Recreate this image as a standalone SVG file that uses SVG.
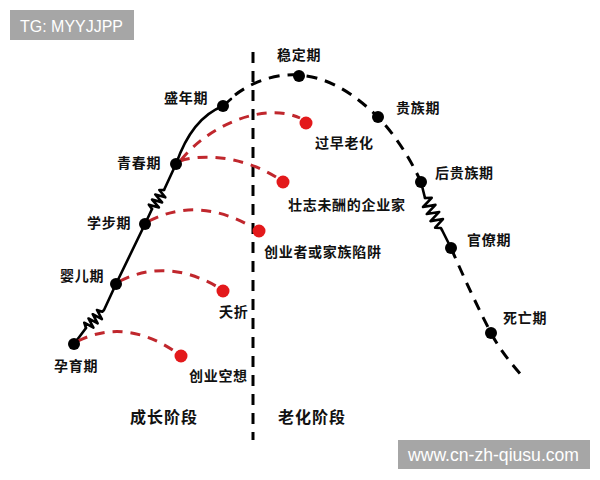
<svg xmlns="http://www.w3.org/2000/svg" width="600" height="480" viewBox="0 0 600 480">
<style>
.lbl{font-family:"Noto Sans CJK SC","Noto Sans CJK JP",sans-serif;font-size:14px;font-weight:bold;fill:#111;letter-spacing:0.7px}
.stage{font-family:"Noto Sans CJK SC","Noto Sans CJK JP",sans-serif;font-size:16px;font-weight:bold;fill:#111;letter-spacing:1px}
.wm{font-family:"Liberation Sans",Arial,sans-serif;fill:#fff}
.solid{fill:none;stroke:#000;stroke-width:2.6;stroke-linecap:round;stroke-linejoin:round}
.dash{fill:none;stroke:#000;stroke-width:3;stroke-dasharray:11 8}
.red{fill:none;stroke:#c0272d;stroke-width:3;stroke-dasharray:10 8}
.bn{fill:#000}
.rn{fill:#e3191b}
</style>
<rect x="10" y="10" width="124" height="30" fill="#a6a6a6"/>
<text class="wm" x="20" y="31.5" font-size="17" textLength="103" lengthAdjust="spacingAndGlyphs">TG: MYYJJPP</text>
<rect x="398" y="440" width="192" height="29" fill="#a6a6a6"/>
<text class="wm" x="408" y="461" font-size="18" textLength="171" lengthAdjust="spacingAndGlyphs">www.cn-zh-qiusu.com</text>

<g id="connectors">
<path id="divider" class="dash" d="M253,52 L253,440"/>
<path class="solid" d="M74,344 L86,328"/>
<path class="solid" transform="translate(86,328) rotate(-45)" d="M0,0 L2.5,-5 L5.5,5 L8.5,-5 L11.5,5 L14.5,-5 L17.5,5 L20.5,-5 L23,0 L25,0"/>
<path class="solid" d="M104,310 L116,284 L145,224 L152,209"/>
<path class="solid" transform="translate(152,209) rotate(-57.7)" d="M0,0 L2,-5 L5,5 L8,-5 L11,5 L14,-5 L17,5 L20,-4 L22.5,0"/>
<path class="solid" d="M164,190 L176,164 C185,138 200,115 223,106 L231,99"/>
<path class="dash" d="M235,95 C252,82 276,73 299,75 C335,78 360,100 378,117 C395,135 410,158 421,182"/>
<path class="solid" d="M421,182 L425,198"/>
<path class="solid" transform="translate(425,198) rotate(62)" d="M0,0 L3,-6 L7,6 L11,-6 L15,6 L19,-6 L23,6 L27,-6 L31,5 L34,0 L36,0"/>
<path class="solid" d="M442,230 L451,248"/>
<path class="dash" d="M451,248 C465,280 478,308 491,333 C500,350 510,362 522,376"/>
<path class="red" d="M78,341 Q125,318 174,351"/>
<path class="red" d="M120,281 Q166,258 216,286"/>
<path class="red" d="M149,221 Q198,196 252,227"/>
<path class="red" d="M180,161 C200,154 240,155 276,177"/>
<path class="red" d="M181,160 C210,124 265,102 300,118"/>
</g>

<g id="n-yunyu"><circle class="bn" cx="74" cy="344" r="6"/><text class="lbl" x="54" y="371">孕育期</text></g>
<g id="n-yinger"><circle class="bn" cx="116" cy="284" r="6"/><text class="lbl" x="60" y="281">婴儿期</text></g>
<g id="n-xuebu"><circle class="bn" cx="145" cy="224" r="6"/><text class="lbl" x="87" y="228">学步期</text></g>
<g id="n-qingchun"><circle class="bn" cx="176" cy="164" r="6"/><text class="lbl" x="117" y="168">青春期</text></g>
<g id="n-shengnian"><circle class="bn" cx="223" cy="106" r="6"/><text class="lbl" x="164" y="103">盛年期</text></g>
<g id="n-wending"><circle class="bn" cx="299" cy="76" r="6"/><text class="lbl" x="277" y="60">稳定期</text></g>
<g id="n-guizu"><circle class="bn" cx="378" cy="117" r="6"/><text class="lbl" x="396" y="113">贵族期</text></g>
<g id="n-houguizu"><circle class="bn" cx="421" cy="182" r="6"/><text class="lbl" x="435" y="178">后贵族期</text></g>
<g id="n-guanliao"><circle class="bn" cx="451" cy="248" r="6"/><text class="lbl" x="467" y="245">官僚期</text></g>
<g id="n-siwang"><circle class="bn" cx="491" cy="333" r="6"/><text class="lbl" x="503" y="323">死亡期</text></g>

<g id="r-guozao"><circle class="rn" cx="306" cy="123" r="6.5"/><text class="lbl" x="315" y="148">过早老化</text></g>
<g id="r-zhuangzhi"><circle class="rn" cx="283" cy="182" r="6.5"/><text class="lbl" x="288" y="210">壮志未酬的企业家</text></g>
<g id="r-chuangyezhe"><circle class="rn" cx="259" cy="231" r="6.5"/><text class="lbl" x="264" y="257">创业者或家族陷阱</text></g>
<g id="r-yaozhe"><circle class="rn" cx="223" cy="291" r="6.5"/><text class="lbl" x="219" y="317">夭折</text></g>
<g id="r-kongxiang"><circle class="rn" cx="181" cy="356" r="6.5"/><text class="lbl" x="189" y="381">创业空想</text></g>

<text class="stage" x="130" y="423">成长阶段</text>
<text class="stage" x="278" y="423">老化阶段</text>
</svg>
